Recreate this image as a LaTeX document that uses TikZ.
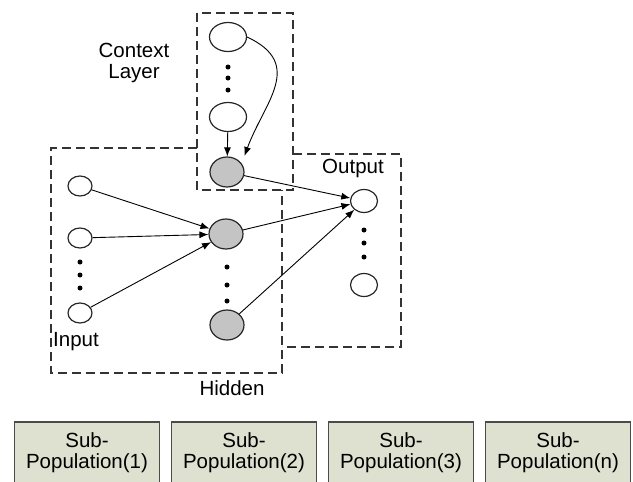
\documentclass[tikz,border=0pt]{standalone}
\usepackage{fontspec}
\setmainfont{Liberation Sans}
\usetikzlibrary{arrows.meta,shapes.geometric}
\definecolor{popfill}{RGB}{222,225,207}
\definecolor{popline}{RGB}{75,75,75}
\definecolor{hidfill}{RGB}{196,196,196}

\begin{document}
\begin{tikzpicture}[x=1pt,y=-1pt,>={Latex[length=9pt,width=7pt]},
    font=\fontsize{20.5}{21}\selectfont,
    unit/.style={ellipse,draw=black!85,line width=1.2pt,inner sep=0pt},
    inpt/.style={unit,minimum width=24pt,minimum height=20pt},
    ctx/.style={unit,minimum width=37pt,minimum height=29pt},
    hid/.style={unit,fill=hidfill,minimum width=34pt,minimum height=30pt},
    outp/.style={unit,minimum width=27pt,minimum height=23pt},
    dotnode/.style={circle,fill=black,inner sep=0pt,minimum size=5pt},
    layer/.style={line width=1.5pt,dash pattern=on 9pt off 5pt,black!80},
    pop/.style={draw=popline,line width=1.2pt,fill=popfill,align=center,
      minimum width=145pt,minimum height=62pt,inner sep=0pt}]
  \useasboundingbox (0,0) rectangle (633,482);

  % dashed layer boxes
  \draw[layer] (197,13) rectangle (293,190);
  \draw[layer] (197,148) -- (51,148) -- (51,373) -- (282,373) -- (282,190);
  \draw[layer] (293,154) -- (401,154) -- (401,347) -- (282,347);

  % context layer
  \node[ctx] (c1) at (228,37) {};
  \node[ctx] (c2) at (228,117) {};
  \node[hid] (gc) at (227,172) {};
  % input
  \node[inpt] (i1) at (80,186) {};
  \node[inpt] (i2) at (80,238) {};
  \node[inpt] (i3) at (80,313) {};
  % hidden
  \node[hid] (h1) at (226,234) {};
  \node[hid] (h2) at (227,325) {};
  % output
  \node[outp] (o1) at (364,201) {};
  \node[outp] (o2) at (364,285) {};

  \foreach \y [count=\k] in {67,78,90}
    \node[dotnode] (cd\k) at (228,\y) {};
  \foreach \y [count=\k] in {262,275,288}
    \node[dotnode] (id\k) at (80,\y) {};
  \foreach \y [count=\k] in {267,285,301}
    \node[dotnode] (hd\k) at (227,\y) {};
  \foreach \y [count=\k] in {230,243,257}
    \node[dotnode] (od\k) at (364,\y) {};

  \path[->,line width=0.9pt]
    (c2) edge (gc)
    (c1.east) edge[out=-25,in=70,looseness=1.3,shorten >=8pt] (gc.30)
    (gc) edge (o1)
    (i1) edge (h1)
    (i2) edge (h1)
    (i3) edge (h1)
    (h1) edge (o1)
    (h2) edge (o1);

  % labels
  \node[align=center] (ctxlabel) at (134,63) {Context\\Layer};
  \node (outlabel) at (353,168) {Output};
  \node[anchor=west,inner sep=0pt] (inlabel) at (53,342) {Input};
  \node (hidlabel) at (232,388) {Hidden};

  % sub-populations
  \node[pop] (sp1) at (87,453) {Sub-\\Population(1)};
  \node[pop] (sp2) at (244,453) {Sub-\\Population(2)};
  \node[pop] (sp3) at (401,453) {Sub-\\Population(3)};
  \node[pop] (sp4) at (558,453) {Sub-\\Population(n)};
\end{tikzpicture}
\end{document}
